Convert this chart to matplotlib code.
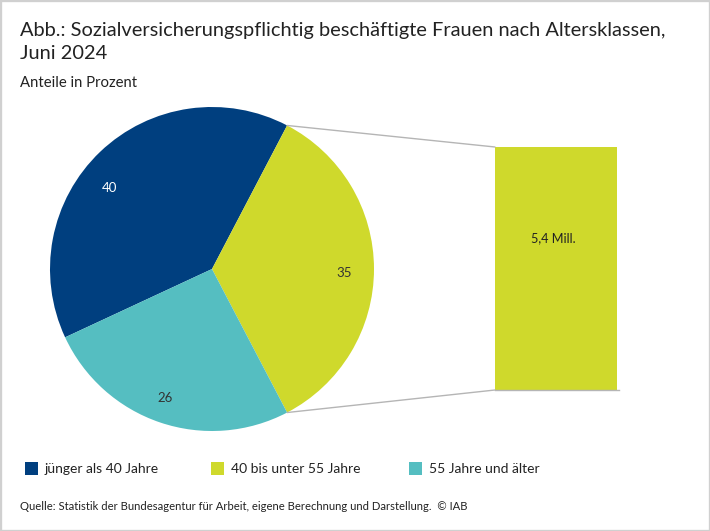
import numpy as np
import matplotlib
matplotlib.use("Agg")
import matplotlib.pyplot as plt
from matplotlib.patches import ConnectionPatch, Rectangle

plt.rcParams['font.family'] = ['Lato', 'DejaVu Sans']

title = "Abb.: Sozialversicherungspflichtig beschäftigte Frauen nach Altersklassen,\nJuni 2024"
subtitle = "Anteile in Prozent"
source = "Quelle: Statistik der Bundesagentur für Arbeit, eigene Berechnung und Darstellung.  © IAB"
categories = ["jünger als 40 Jahre", "40 bis unter 55 Jahre", "55 Jahre und älter"]
shares = [40, 35, 26]
pie_colors = ["#003F7F", "#CFD92C", "#55BEC1"]
label_colors = ["white", "#333333", "#333333"]
bar_value = [5.4]
bar_label = "5,4 Mill."

W, H = 710, 531
fig = plt.figure(figsize=(W / 100, H / 100), dpi=100, facecolor="white")

def axes_px(l, t, r, b):
    return fig.add_axes([l / W, 1 - b / H, (r - l) / W, (b - t) / H])

def fx(x): return x / W
def fy(y): return 1 - y / H

fig.add_artist(Rectangle((0, 0), 1, 1, transform=fig.transFigure, fill=False,
                         edgecolor="#D0D0D0", linewidth=2.4))

TXT = "#222222"
fig.text(fx(20), fy(59), title, fontsize=14.4, color=TXT, va="baseline", linespacing=1.42, ha="left")
fig.text(fx(20), fy(87), subtitle, fontsize=10.7, color=TXT, va="baseline")

# pie: clockwise from the blue slice, with the yellow slice centred on the right
axp = axes_px(50, 107, 374, 431)
start = 360 * shares[0] / sum(shares) + 180 * shares[1] / sum(shares)
wedges, _ = axp.pie(shares, colors=pie_colors, startangle=start, radius=1, counterclock=False)
axp.set_xlim(-1, 1); axp.set_ylim(-1, 1); axp.set_aspect("equal")
label_pos = [(110, 188), (344, 273), (165, 398)]
for (px, py), v, c in zip(label_pos, shares, label_colors):
    axp.text(fx(px), fy(py), str(v), color=c, fontsize=9.5, ha="center", va="center",
             transform=fig.transFigure)

# bar
axb = axes_px(495, 147, 617, 390)
axb.bar([0], bar_value, width=1, color=pie_colors[1])
axb.set_xlim(-0.5, 0.5); axb.set_ylim(0, bar_value[0])
axb.axis("off")
axb.text(fx(553), fy(238), bar_label, color=TXT, fontsize=9.1, ha="center", va="center",
         transform=fig.transFigure)

# baseline and connectors
LINE = "#B5B5B5"
fig.add_artist(plt.Line2D([fx(495), fx(619)], [fy(390), fy(390)], color=LINE, linewidth=1))
y_w = wedges[1]
for th in (y_w.theta1, y_w.theta2):
    a = np.deg2rad(th)
    y_pt = np.sin(a)
    con = ConnectionPatch(xyA=(np.cos(a), y_pt), coordsA=axp.transData,
                          xyB=(-0.5, bar_value[0] if y_pt > 0 else 0), coordsB=axb.transData,
                          color=LINE, linewidth=1)
    fig.add_artist(con)

# legend
leg_x = [25, 211, 409]
for x, c, lab in zip(leg_x, pie_colors, categories):
    fig.add_artist(Rectangle((fx(x), fy(475)), 13 / W, 13 / H, transform=fig.transFigure,
                             facecolor=c, edgecolor="none"))
    fig.text(fx(x + 20), fy(473), lab, fontsize=10.0, color=TXT, va="baseline")

fig.text(fx(20), fy(510), source, fontsize=8.12, color=TXT, va="baseline")
fig.savefig("out.png", dpi=100)
